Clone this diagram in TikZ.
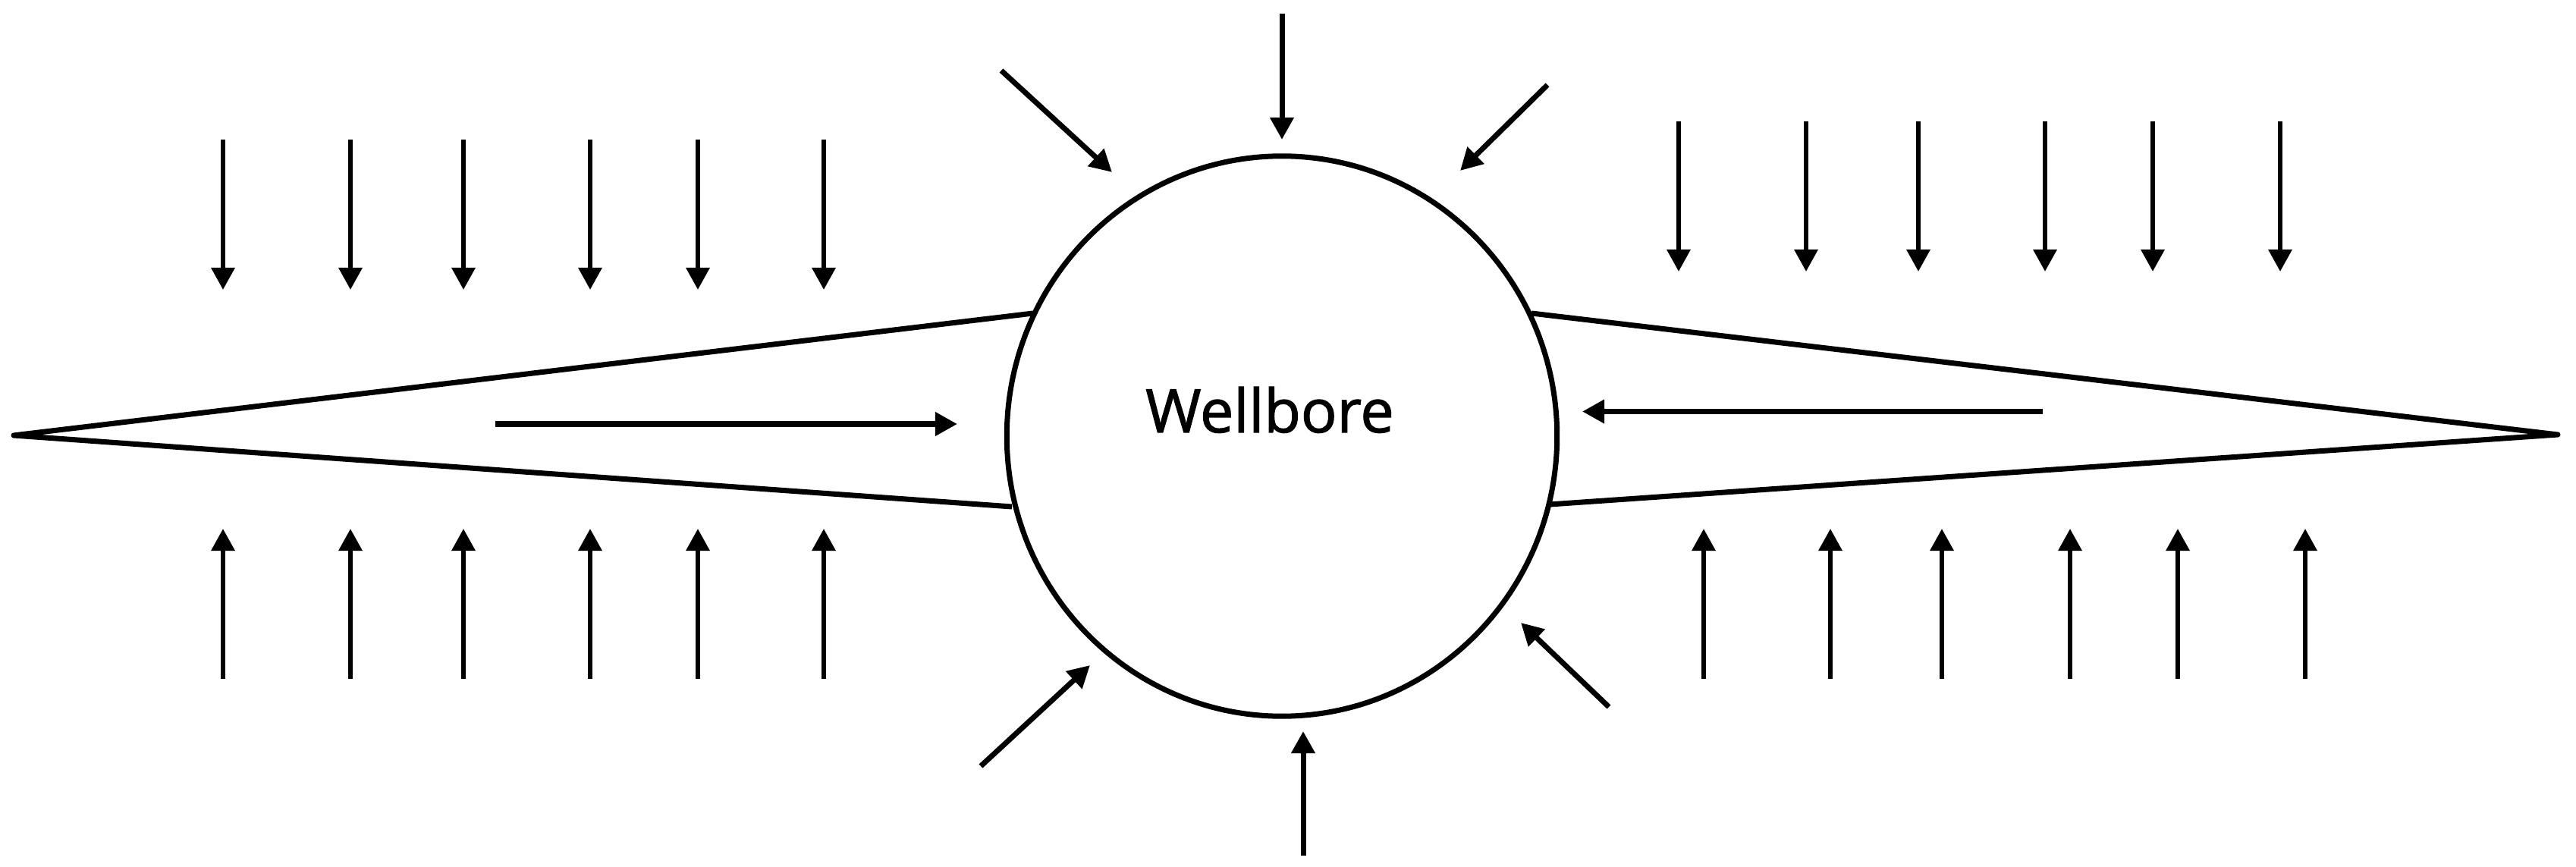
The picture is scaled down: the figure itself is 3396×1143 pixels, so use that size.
\documentclass[tikz,border=0pt]{standalone}
\usepackage{fontspec}
\setmainfont[FakeBold=1.5]{Open Sans}
\usetikzlibrary{arrows.meta,shapes.geometric}
\tikzset{
  flowarrow/.style={line width=.062cm,-{Triangle[length=.29cm,width=.30cm]}},
  bigarrow/.style={line width=.07cm,-{Triangle[length=.29cm,width=.30cm]}},
  wall/.style={line width=.07cm,line join=round},
  label text/.style={inner sep=0pt,anchor=base,font=\fontsize{22.5}{28}\selectfont}
}
\begin{document}
\begin{tikzpicture}[x=.01cm,y=-.01cm]
\useasboundingbox (0,0) rectangle (3396,1143);
% wellbore
\node[draw,ellipse,inner sep=0pt,outer sep=0pt,line width=.07cm,minimum width=7.25cm,minimum height=7.38cm] (bore) at (1690,575) {};
\node[label text] (boretext) at (1674,570) {Wellbore};
% fractures
\coordinate (ltip) at (18,574);
\coordinate (rtip) at (3372,573);
\draw[wall] (1362,413) -- (ltip) -- (1334,668);
\draw[wall] (2019,413) -- (rtip) -- (2043,665);
% left stress arrows
\foreach \x in {294,462,611,778,920,1086}{
  \draw[flowarrow] (\x,184) -- (\x,382);
  \draw[flowarrow] (\x,895) -- (\x,697);
}
% right stress arrows
\foreach \x in {2213,2381,2529,2696,2838,3006}
  \draw[flowarrow] (\x,160) -- (\x,358);
\foreach \x in {2246,2413,2560,2729,2871,3039}
  \draw[flowarrow] (\x,895) -- (\x,697);
% around wellbore
\draw[bigarrow] (1690,18) -- (1690,184);
\draw[bigarrow] (1320,93) -- (1466,227);
\draw[bigarrow] (2040,112) -- (1925,225);
\draw[bigarrow] (1293,1010) -- (1437,877);
\draw[bigarrow] (2121,932) -- (2005,821);
\draw[bigarrow] (1718,1128) -- (1718,964);
% fracture flow
\draw[bigarrow] (653,559) -- (1262,559);
\draw[bigarrow] (2693,542.5) -- (2086,542.5);
\end{tikzpicture}
\end{document}
